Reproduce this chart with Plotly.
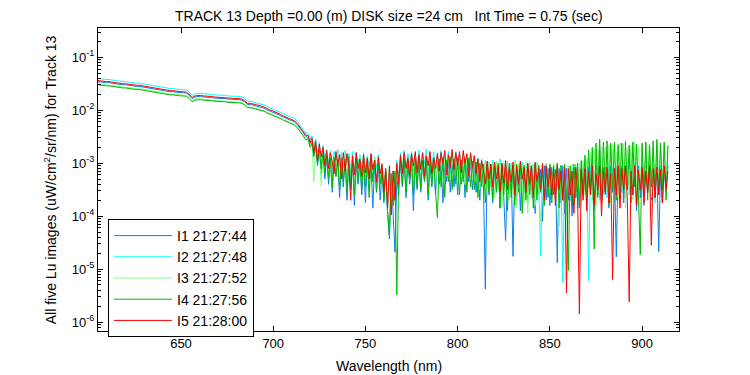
import numpy as np
import plotly.graph_objects as go

# Wavelength grids (nm): smooth part every 1.5 nm, noisy part every 1 nm
wl_smooth = np.round(np.arange(605.0, 718.0, 1.5), 1)   # 605 ... 717.5
wl_noisy = np.arange(719.0, 914.5, 1.0)                 # 719 ... 914
wavelength = np.concatenate([wl_smooth, wl_noisy])

# log10 of Lu (uW/cm^2/sr/nm)
I1_smooth = [-1.46,-1.47,-1.47,-1.48,-1.48,-1.49,-1.50,-1.50,-1.51,-1.52,
             -1.52,-1.53,-1.53,-1.54,-1.55,-1.55,-1.56,-1.57,-1.57,-1.58,
             -1.59,-1.60,-1.61,-1.62,-1.63,-1.64,-1.65,-1.65,-1.66,-1.66,
             -1.67,-1.67,-1.68,-1.72,-1.78,-1.75,-1.74,-1.74,-1.75,-1.75,
             -1.76,-1.76,-1.77,-1.77,-1.78,-1.78,-1.78,-1.79,-1.79,-1.80,
             -1.80,-1.80,-1.81,-1.84,-1.89,-1.89,-1.90,-1.92,-1.93,-1.94,
             -1.96,-1.99,-2.01,-2.03,-2.05,-2.08,-2.10,-2.13,-2.15,-2.18,
             -2.20,-2.22,-2.27,-2.33,-2.41,-2.49]
I2_smooth = [-1.40,-1.41,-1.41,-1.42,-1.42,-1.43,-1.44,-1.44,-1.45,-1.46,
             -1.46,-1.47,-1.47,-1.48,-1.49,-1.49,-1.50,-1.51,-1.51,-1.52,
             -1.53,-1.54,-1.55,-1.56,-1.57,-1.58,-1.59,-1.59,-1.60,-1.60,
             -1.61,-1.61,-1.62,-1.66,-1.72,-1.69,-1.68,-1.68,-1.69,-1.69,
             -1.70,-1.70,-1.71,-1.71,-1.72,-1.72,-1.72,-1.73,-1.73,-1.74,
             -1.74,-1.74,-1.75,-1.78,-1.83,-1.83,-1.84,-1.86,-1.87,-1.88,
             -1.90,-1.93,-1.95,-1.97,-1.99,-2.02,-2.04,-2.07,-2.09,-2.12,
             -2.14,-2.16,-2.21,-2.27,-2.35,-2.43]
I3_smooth = [-1.50,-1.51,-1.51,-1.52,-1.53,-1.53,-1.54,-1.55,-1.55,-1.56,
             -1.57,-1.57,-1.58,-1.58,-1.59,-1.60,-1.60,-1.61,-1.62,-1.62,
             -1.63,-1.64,-1.65,-1.66,-1.67,-1.68,-1.69,-1.70,-1.70,-1.71,
             -1.71,-1.72,-1.72,-1.76,-1.82,-1.79,-1.78,-1.79,-1.79,-1.80,
             -1.80,-1.81,-1.81,-1.82,-1.82,-1.83,-1.83,-1.83,-1.84,-1.84,
             -1.85,-1.85,-1.86,-1.89,-1.94,-1.94,-1.95,-1.97,-1.98,-1.99,
             -2.01,-2.04,-2.06,-2.08,-2.10,-2.13,-2.15,-2.18,-2.20,-2.23,
             -2.25,-2.27,-2.32,-2.38,-2.46,-2.54]
I4_smooth = [-1.52,-1.53,-1.53,-1.54,-1.54,-1.55,-1.56,-1.56,-1.57,-1.58,
             -1.58,-1.59,-1.59,-1.60,-1.61,-1.61,-1.62,-1.63,-1.63,-1.64,
             -1.65,-1.66,-1.67,-1.68,-1.69,-1.70,-1.71,-1.71,-1.72,-1.72,
             -1.73,-1.73,-1.74,-1.78,-1.84,-1.81,-1.80,-1.80,-1.81,-1.81,
             -1.82,-1.82,-1.83,-1.83,-1.84,-1.84,-1.84,-1.85,-1.85,-1.86,
             -1.86,-1.86,-1.87,-1.90,-1.95,-1.95,-1.96,-1.98,-1.99,-2.00,
             -2.02,-2.05,-2.07,-2.09,-2.11,-2.14,-2.16,-2.19,-2.21,-2.24,
             -2.26,-2.28,-2.33,-2.39,-2.47,-2.55]
I5_smooth = [-1.44,-1.45,-1.45,-1.46,-1.46,-1.47,-1.48,-1.48,-1.49,-1.50,
             -1.50,-1.51,-1.51,-1.52,-1.53,-1.53,-1.54,-1.55,-1.55,-1.56,
             -1.57,-1.58,-1.59,-1.60,-1.61,-1.62,-1.63,-1.63,-1.64,-1.64,
             -1.65,-1.65,-1.66,-1.70,-1.76,-1.73,-1.72,-1.72,-1.73,-1.73,
             -1.74,-1.74,-1.75,-1.755,-1.76,-1.76,-1.76,-1.77,-1.77,-1.78,
             -1.78,-1.78,-1.79,-1.82,-1.87,-1.87,-1.88,-1.90,-1.91,-1.92,
             -1.94,-1.97,-1.99,-2.01,-2.03,-2.06,-2.08,-2.11,-2.13,-2.16,
             -2.18,-2.20,-2.25,-2.31,-2.39,-2.47]

I1_noisy = [-2.52,-2.66,-2.58,-2.88,-2.64,-3.05,-2.72,-3.20,-2.80,-3.30,
            -2.86,-3.40,-2.90,-3.55,-2.92,-3.25,-2.95,-3.65,-2.90,-3.45,
            -2.94,-3.70,-2.96,-3.50,-2.92,-3.80,-3.00,-3.40,-2.95,-3.60,
            -2.98,-3.75,-2.94,-3.45,-3.00,-3.85,-2.96,-3.55,-3.02,-3.70,
            -3.10,-3.75,-3.15,-3.95,-4.43,-3.20,-3.85,-4.68,-3.25,-3.60,
            -2.96,-3.45,-2.92,-3.65,-2.98,-3.40,-2.94,-3.90,-2.96,-3.50,
            -2.92,-3.55,-2.96,-3.35,-2.94,-3.70,-2.98,-3.45,-2.92,-3.60,
            -2.96,-3.40,-2.94,-3.75,-2.98,-3.35,-2.92,-3.55,-2.96,-3.45,
            -2.94,-3.60,-2.98,-3.40,-2.92,-3.65,-2.96,-3.35,-2.94,-3.50,
            -2.98,-3.55,-3.02,-3.70,-3.00,-3.45,-5.38,-3.05,-3.60,-3.02,
            -3.75,-3.05,-3.55,-3.08,-3.85,-3.02,-3.65,-4.46,-3.10,-3.60,
            -3.05,-4.76,-3.10,-3.70,-3.05,-3.90,-3.08,-3.55,-3.12,-3.75,
            -3.05,-3.65,-3.10,-3.95,-3.08,-3.60,-3.12,-4.10,-3.05,-3.70,
            -3.10,-3.80,-3.08,-3.60,-3.12,-4.88,-3.10,-3.75,-3.05,-3.95,
            -3.10,-3.70,-3.15,-4.00,-3.08,-3.65,-3.12,-3.85,-3.10,-3.60,
            -3.12,-3.75,-3.08,-3.55,-3.10,-3.90,-3.05,-3.65,-2.75,-3.70,
            -3.08,-3.60,-3.12,-3.85,-3.05,-3.55,-3.10,-4.77,-3.08,-3.65,
            -3.05,-3.75,-3.10,-3.50,-3.08,-2.80,-3.60,-3.12,-3.90,-3.05,
            -3.65,-3.10,-3.80,-3.05,-3.55,-3.12,-3.70,-3.08,-3.60,-3.10,
            -4.67,-3.08,-3.75,-3.12,-3.55,-3.05]
I2_noisy = [-2.44,-2.56,-2.48,-2.72,-2.54,-2.85,-2.60,-3.05,-2.66,-2.92,
            -2.74,-3.02,-2.76,-3.15,-2.78,-2.95,-2.74,-3.08,-2.80,-3.20,
            -2.76,-3.05,-2.82,-3.15,-2.78,-3.25,-2.80,-3.00,-2.84,-3.12,
            -2.80,-3.20,-2.86,-3.05,-2.82,-3.30,-2.88,-3.10,-2.84,-3.25,
            -3.00,-3.40,-3.12,-3.85,-3.05,-3.55,-3.15,-3.70,-2.95,-3.30,
            -2.80,-3.10,-2.76,-3.20,-2.82,-3.00,-2.78,-3.15,-2.84,-3.05,
            -2.76,-3.12,-2.80,-3.02,-2.74,-3.18,-2.82,-3.05,-2.78,-3.22,
            -2.80,-3.05,-2.76,-3.15,-2.82,-3.00,-2.78,-3.20,-2.80,-3.08,
            -2.78,-3.12,-2.82,-3.02,-2.80,-3.15,-2.84,-3.05,-2.82,-3.18,
            -2.86,-3.10,-2.90,-3.25,-2.92,-3.40,-2.95,-3.20,-2.98,-3.35,
            -2.94,-3.30,-2.98,-3.45,-2.92,-3.25,-3.00,-3.50,-2.96,-3.35,
            -3.00,-3.40,-2.95,-3.55,-3.02,-3.30,-2.98,-3.45,-3.05,-3.60,
            -2.98,-3.35,-3.02,-3.50,-3.00,-3.40,-4.76,-3.05,-3.55,-3.00,
            -3.45,-3.05,-3.65,-3.02,-3.50,-3.08,-3.75,-3.05,-5.26,-3.10,
            -3.55,-3.05,-3.70,-3.10,-3.45,-3.02,-3.85,-3.12,-3.60,-3.05,
            -3.50,-3.10,-5.22,-3.05,-3.60,-3.15,-3.40,-3.02,-3.70,-3.10,
            -3.45,-3.05,-3.65,-3.00,-3.50,-3.10,-3.75,-3.05,-3.40,-3.00,
            -3.55,-3.08,-3.40,-2.98,-3.60,-3.05,-3.50,-3.00,-3.70,-3.10,
            -3.45,-3.02,-3.65,-3.08,-3.40,-2.98,-3.55,-3.05,-3.75,-3.00,
            -3.50,-3.05,-3.60,-3.10,-3.45,-3.02]
I3_noisy = [-2.54,-2.66,-2.60,-3.35,-2.68,-2.85,-2.72,-3.42,-2.80,-3.00,
            -2.84,-3.20,-2.86,-3.30,-2.88,-3.10,-2.85,-3.35,-2.90,-3.15,
            -2.86,-3.30,-2.90,-3.20,-2.88,-3.40,-2.92,-3.15,-2.86,-3.35,
            -2.90,-3.25,-2.88,-3.40,-2.92,-3.20,-2.90,-3.45,-2.94,-3.30,
            -3.05,-3.50,-3.15,-3.85,-3.10,-3.95,-3.20,-3.75,-3.00,-3.40,
            -2.88,-3.25,-2.84,-3.35,-2.90,-3.20,-2.86,-3.40,-2.88,-3.15,
            -2.86,-3.30,-2.90,-3.20,-2.84,-3.35,-2.88,-3.25,-2.90,-3.40,
            -2.88,-3.20,-2.86,-3.35,-2.90,-3.25,-2.84,-3.30,-2.88,-3.20,
            -2.86,-3.35,-2.88,-3.25,-2.90,-3.40,-2.86,-3.20,-2.92,-3.30,
            -2.94,-3.35,-2.96,-3.50,-2.98,-3.30,-3.00,-3.60,-2.98,-3.45,
            -3.00,-3.65,-2.96,-3.50,-3.02,-3.80,-2.98,-3.55,-3.00,-3.70,
            -3.02,-3.60,-2.98,-3.85,-3.00,-3.55,-3.04,-3.75,-2.98,-3.95,
            -3.00,-3.65,-3.02,-3.80,-2.98,-3.55,-4.10,-3.05,-3.70,-3.00,
            -3.60,-3.02,-3.75,-3.05,-3.55,-3.00,-4.20,-3.08,-3.65,-3.02,
            -3.70,-3.05,-3.55,-3.02,-3.80,-3.08,-3.60,-3.00,-3.75,-2.95,
            -3.60,-2.90,-3.45,-2.80,-3.70,-2.72,-3.80,-2.75,-3.50,-2.68,
            -3.60,-2.70,-3.50,-2.66,-3.75,-2.65,-3.40,-2.78,-3.65,-2.62,
            -3.50,-2.64,-3.85,-2.72,-3.45,-2.68,-3.70,-2.60,-3.55,-2.70,
            -3.40,-2.66,-3.75,-2.62,-3.50,-2.64,-3.65,-2.72,-3.45,-2.60,
            -3.60,-2.62,-3.50,-2.66,-3.40,-2.70]
I4_noisy = [-2.56,-2.70,-2.62,-2.86,-2.68,-3.00,-2.74,-3.10,-2.80,-3.20,
            -2.86,-3.30,-2.90,-3.45,-2.88,-3.25,-2.92,-3.50,-2.90,-3.35,
            -2.92,-3.55,-2.88,-3.40,-2.94,-3.60,-2.90,-3.30,-2.96,-3.50,
            -2.92,-3.45,-2.96,-3.65,-2.90,-3.35,-2.94,-3.55,-2.98,-3.40,
            -3.10,-3.70,-3.15,-3.90,-4.37,-3.20,-3.80,-3.15,-5.49,-3.30,
            -2.92,-3.40,-2.88,-3.55,-2.94,-3.30,-2.90,-3.60,-2.92,-3.45,
            -2.90,-3.50,-2.94,-3.35,-2.88,-3.60,-2.92,-3.40,-2.90,-3.55,
            -4.03,-2.92,-3.45,-2.90,-3.65,-2.94,-3.35,-2.88,-3.50,-2.92,
            -3.40,-2.90,-3.60,-2.94,-3.35,-2.92,-3.55,-2.90,-3.45,-2.96,
            -3.50,-2.98,-3.65,-3.00,-3.45,-3.02,-3.75,-3.00,-3.55,-3.04,
            -3.70,-3.02,-3.55,-3.00,-3.85,-3.04,-3.60,-3.02,-3.90,-3.00,
            -3.65,-3.04,-3.80,-3.02,-3.55,-3.00,-3.95,-3.04,-3.70,-3.02,
            -3.60,-3.05,-3.85,-3.02,-3.70,-3.04,-3.55,-3.00,-3.80,-3.05,
            -3.65,-3.02,-3.75,-3.05,-3.60,-3.00,-3.85,-3.04,-3.70,-3.02,
            -3.60,-5.03,-3.05,-3.75,-3.02,-3.65,-3.00,-3.80,-2.95,-3.55,
            -2.85,-3.70,-2.75,-3.50,-2.70,-4.62,-2.62,-3.60,-2.55,-3.75,
            -2.60,-3.55,-2.58,-3.80,-2.62,-3.50,-2.60,-3.70,-2.65,-3.45,
            -2.62,-3.65,-2.58,-3.50,-2.66,-3.75,-2.60,-3.45,-2.64,-3.60,
            -4.73,-2.62,-3.55,-2.60,-3.70,-2.66,-3.45,-2.58,-3.65,-2.55,
            -3.60,-2.62,-3.50,-2.60,-3.70,-2.66]
I5_noisy = [-2.48,-2.62,-2.52,-2.80,-2.58,-2.95,-2.64,-2.88,-2.70,-3.05,
            -2.76,-3.10,-2.80,-2.98,-3.20,-2.78,-3.05,-2.84,-3.30,-2.80,
            -3.15,-2.82,-3.05,-3.70,-2.86,-3.22,-2.80,-3.10,-2.92,-3.25,
            -2.84,-3.18,-2.90,-3.30,-2.82,-3.12,-2.95,-3.35,-2.88,-3.20,
            -3.02,-3.55,-3.10,-3.85,-3.05,-3.98,-3.15,-3.70,-3.00,-3.40,
            -2.85,-3.20,-2.80,-3.10,-2.90,-3.25,-2.82,-3.05,-2.78,-3.18,
            -2.84,-3.12,-2.80,-3.25,-2.86,-3.05,-2.78,-3.20,-2.90,-3.10,
            -2.82,-3.15,-2.80,-3.00,-2.76,-3.22,-2.84,-3.08,-2.74,-3.12,
            -2.80,-3.05,-2.78,-3.18,-2.76,-3.00,-2.82,-3.25,-2.80,-3.10,
            -2.86,-3.20,-2.92,-3.35,-2.95,-3.15,-3.40,-2.96,-3.30,-3.02,
            -3.45,-2.98,-3.30,-3.05,-3.55,-3.00,-3.38,-2.95,-3.50,-3.08,
            -3.35,-2.98,-3.60,-3.05,-3.40,-2.96,-3.30,-3.08,-3.55,-3.00,
            -3.40,-3.05,-3.65,-2.98,-3.35,-3.10,-3.50,-3.02,-3.70,-3.05,
            -3.45,-3.08,-3.60,-3.12,-3.80,-3.05,-3.50,-3.15,-3.70,-3.10,
            -5.45,-3.10,-3.60,-3.15,-3.95,-3.08,-3.55,-5.85,-3.12,-3.70,
            -3.10,-3.90,-3.15,-3.60,-3.05,-3.80,-3.20,-3.50,-3.05,-4.00,
            -3.15,-3.55,-3.08,-3.75,-3.20,-5.20,-3.10,-3.60,-3.05,-3.85,
            -3.10,-3.50,-3.05,-3.70,-5.62,-3.15,-3.60,-3.05,-3.80,-3.12,
            -3.50,-3.08,-3.75,-3.15,-3.55,-3.05,-4.55,-3.10,-3.65,-3.08,
            -3.60,-3.12,-3.75,-3.05,-3.50,-3.15]

series_names = ["I1 21:27:44", "I2 21:27:48", "I3 21:27:52", "I4 21:27:56", "I5 21:28:00"]
series_colors = ["#0a80f0", "#00ffff", "#80ff80", "#00bb00", "#ff0000"]
series_log = [I1_smooth + I1_noisy, I2_smooth + I2_noisy, I3_smooth + I3_noisy,
              I4_smooth + I4_noisy, I5_smooth + I5_noisy]

FONT = "Liberation Sans, Arial, sans-serif"

fig = go.Figure()
for name, col, lv in zip(series_names, series_colors, series_log):
    fig.add_trace(go.Scatter(x=wavelength, y=10.0 ** np.array(lv), mode="lines",
                             name=name, line=dict(color=col, width=1)))

y_tickvals = [1e-6, 1e-5, 1e-4, 1e-3, 1e-2, 1e-1]
y_ticktext = ["10<sup>-6</sup>", "10<sup>-5</sup>", "10<sup>-4</sup>",
              "10<sup>-3</sup>", "10<sup>-2</sup>", "10<sup>-1</sup>"]
y_minor_vals = [m * 10.0 ** e for e in range(-7, 0) for m in range(2, 10)]
x_tickvals = [650, 700, 750, 800, 850, 900]

fig.update_layout(
    width=742, height=367,
    margin=dict(l=90, r=71, t=20, b=44),
    paper_bgcolor="white", plot_bgcolor="white",
    font=dict(family=FONT, size=14, color="black"),
    showlegend=True,
    legend=dict(x=0.0172, y=0.3696, xanchor="left", yanchor="top",
                bordercolor="black", borderwidth=1, bgcolor="white",
                font=dict(size=14), tracegroupgap=0, itemwidth=58),
    xaxis=dict(range=[605, 920], tickmode="array", tickvals=x_tickvals,
               ticks="inside", ticklen=5, tickcolor="black",
               showline=True, linecolor="black", linewidth=1, mirror="ticks",
               showgrid=False, zeroline=False, tickfont=dict(size=13)),
    yaxis=dict(type="log", range=[-6.17, -0.447], tickmode="array",
               tickvals=y_tickvals, ticktext=y_ticktext,
               ticks="inside", ticklen=5, tickcolor="black",
               showline=True, linecolor="black", linewidth=1, mirror="ticks",
               showgrid=False, zeroline=False, tickfont=dict(size=13),
               minor=dict(tickmode="array", tickvals=y_minor_vals, ticks="inside",
                          ticklen=3, tickcolor="black", showgrid=False)),
    annotations=[
        dict(text="TRACK 13 Depth =0.00 (m) DISK size =24 cm\u00a0\u00a0\u00a0Int Time = 0.75 (sec)",
             xref="paper", yref="paper", x=0.5, y=1.041, xanchor="center", yanchor="middle",
             showarrow=False, font=dict(size=14), borderpad=0),
        dict(text="Wavelength (nm)", xref="paper", yref="paper", x=0.5, y=-0.115,
             xanchor="center", yanchor="middle", showarrow=False, font=dict(size=14)),
        dict(text="All five Lu images (uW/cm<sup>2</sup>/sr/nm) for Track 13",
             xref="paper", yref="paper", x=-0.083, y=0.5, textangle=-90,
             xanchor="center", yanchor="middle", showarrow=False, font=dict(size=14)),
    ],
)

fig.write_html("out.html")
